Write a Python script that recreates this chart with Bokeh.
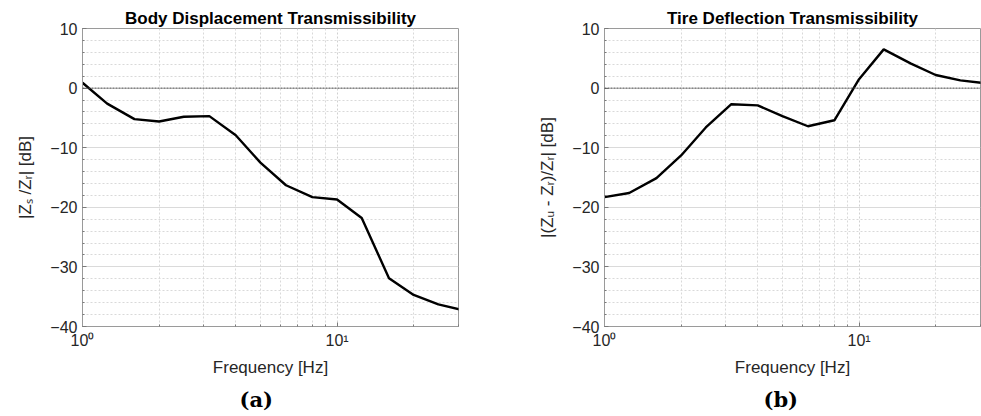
from bokeh.plotting import figure
from bokeh.layouts import row
from bokeh.models import FixedTicker, CustomJSTickFormatter, Span, Title, Range1d
from bokeh.embed import file_html
from bokeh.resources import INLINE

freq = [1, 1.25, 1.6, 2, 2.5, 3.15, 4, 5, 6.3, 8, 10, 12.5, 16, 20, 25, 31.5]
body_db = [0.9, -2.6, -5.2, -5.6, -4.8, -4.7, -7.9, -12.5, -16.3, -18.3, -18.7,
           -21.8, -31.9, -34.7, -36.3, -37.3]
tire_db = [-18.3, -17.6, -15.1, -11.3, -6.6, -2.7, -2.9, -4.7, -6.4, -5.4, 1.5,
           6.5, 4.1, 2.2, 1.3, 0.8]
x_major = [1, 10]
x_minor = [2, 3, 4, 5, 6, 7, 8, 9, 20, 30]
y_major = [-40, -30, -20, -10, 0, 10]
y_minor = list(range(-40, 11, 2))

FONT = "Liberation Sans"
TXT = "#262626"


def make(title, ylabel, ydata, caption, width, left, right, cap_offset):
    p = figure(width=width, height=416, x_axis_type="log",
               x_range=Range1d(1, 30), y_range=Range1d(-40, 10),
               output_backend="svg", toolbar_location=None,
               min_border_left=left, min_border_right=right,
               min_border_top=28, min_border_bottom=20)
    p.title.text = title
    p.title.align = "center"
    p.title.text_font = FONT
    p.title.text_font_style = "bold"
    p.title.text_font_size = "17px"
    p.title.text_color = "black"
    p.title.standoff = 1
    p.outline_line_color = "#9a9a9a"
    p.outline_line_width = 1
    p.background_fill_color = "white"
    p.border_fill_color = "white"

    p.xaxis.ticker = FixedTicker(ticks=x_major, minor_ticks=x_minor)
    p.xaxis.formatter = CustomJSTickFormatter(
        code="return Math.round(Math.log10(tick)) == 0 ? '10\u2070' : '10\u00b9';")
    p.yaxis.ticker = FixedTicker(ticks=y_major, minor_ticks=y_minor)
    p.yaxis.formatter = CustomJSTickFormatter(
        code="return tick < 0 ? '\u2212' + Math.abs(tick) : '' + tick;")

    for ax in (p.xaxis[0], p.yaxis[0]):
        ax.axis_line_color = "#9a9a9a"
        ax.major_tick_line_color = "#7a7a7a"
        ax.minor_tick_line_color = "#7a7a7a"
        ax.major_tick_in = 4
        ax.major_tick_out = 0
        ax.minor_tick_in = 2
        ax.minor_tick_out = 0
        ax.major_label_text_font = FONT
        ax.major_label_text_font_size = "16px"
        ax.major_label_text_color = TXT
        ax.axis_label_text_font = FONT
        ax.axis_label_text_font_size = "17px"
        ax.axis_label_text_font_style = "normal"
        ax.axis_label_text_color = TXT
        ax.major_label_standoff = 5
    p.xaxis.axis_label = "Frequency [Hz]"
    p.xaxis.axis_label_standoff = 6
    p.yaxis.axis_label = ylabel
    p.yaxis.axis_label_standoff = 12

    for g in (p.xgrid[0], p.ygrid[0]):
        g.grid_line_color = "#dadada"
        g.grid_line_width = 1
        g.minor_grid_line_color = "#d9d9d9"
        g.minor_grid_line_dash = "2 2"
        g.minor_grid_line_width = 1
    p.xgrid.grid_line_dash = "2 2"
    p.xgrid.grid_line_color = "#d0d0d0"

    p.add_layout(Span(location=0, dimension="width", line_color="#4d4d4d",
                      line_dash="2 1", line_width=1))
    p.line(freq, ydata, line_color="black", line_width=2.4)

    cap = Title(text=caption, align="left", offset=cap_offset,
                text_font="DejaVu Serif", text_font_style="bold",
                text_font_size="21px", text_color="black")
    p.add_layout(cap, "below")
    return p


p1 = make("Body Displacement Transmissibility", "|Z\u209b /Z\u1d63| [dB]",
          body_db, "(a)", 490, 82, 32, 157)
p2 = make("Tire Deflection Transmissibility", "|(Z\u1d64 - Z\u1d63)/Z\u1d63| [dB]",
          tire_db, "(b)", 491, 114, 1, 159)

layout = row(p1, p2)
open("out.html", "w").write(file_html(layout, INLINE))
